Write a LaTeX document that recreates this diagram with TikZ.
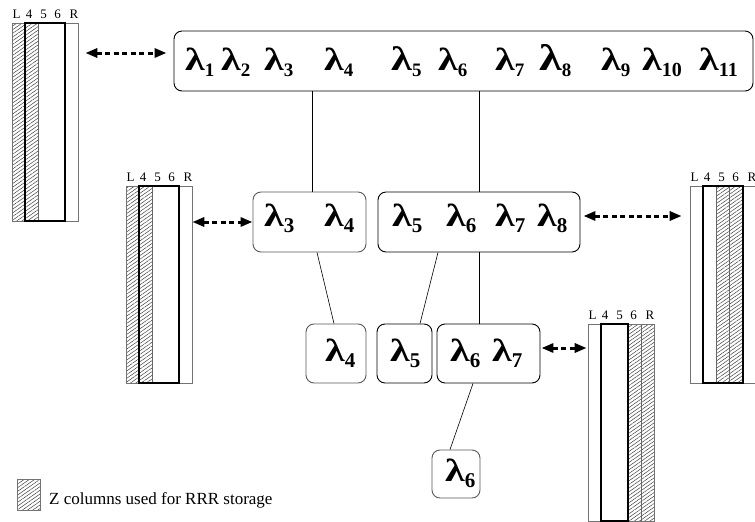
\documentclass[tikz,border=0pt]{standalone}
\usepackage{fontspec}
\setmainfont{Liberation Serif}
\usetikzlibrary{arrows.meta,patterns.meta,fit}
\newcommand\lam[3][32]{{\fontsize{#1}{#1}\selectfont\bfseries\scalebox{1.25}[1]{λ}}\raisebox{-6pt}{\fontsize{#2}{#2}\selectfont\bfseries #3}}
\newcommand\mycolbar[8]{%
  \fill[hatch] ({#2+#5*13.2},#3) rectangle ({#2+#6*13.2},#4);
  \draw[colline] ({#2+#5*13.2},#3) rectangle ({#2+#6*13.2},#4);
  \draw[colline] ({#2+(#5+1)*13.2},#3) -- ({#2+(#5+1)*13.2},#4);
  \node[barframe, fit={(#2,#3) ({#2+66},#4)}] (#1) {};
  \draw[thickbox] ({#2+#7*13.2},#3) rectangle ({#2+#8*13.2},#4);
  \foreach \tt/\xo in {L/4.5,4/17,5/31.5,6/45.5,R/62}
    \node[collab] at ({#2+\xo},{#3-5}) {\tt};
}
\begin{document}
\begin{tikzpicture}[x=1pt,y=-1pt,
  lbox/.style={draw, rounded corners=8pt, line width=0.9pt, inner sep=0pt},
  gbox/.style={lbox, draw=black!65},
  lab/.style={anchor=base west, inner sep=0pt},
  hatch/.style={pattern={Lines[angle=35,distance=3pt,line width=0.45pt]}, pattern color=black!80},
  colline/.style={draw=black!60, line width=0.5pt},
  barframe/.style={draw=black!55, line width=0.6pt, inner sep=0pt},
  thickbox/.style={draw=black, line width=1.8pt},
  collab/.style={anchor=base, inner sep=0pt, font=\fontsize{13}{13}\selectfont},
  tline/.style={line width=0.6pt},
  dotarr/.style={line width=3pt, dash pattern=on 5pt off 3.5pt,
    {Triangle[length=12pt,width=9pt]}-{Triangle[length=12pt,width=9pt]}}
]
\useasboundingbox (0,0) rectangle (755,522);

% boxes
\node[lbox, minimum width=579pt, minimum height=60pt] (top) at (463.5,61) {};
\node[gbox, minimum width=113pt, minimum height=60pt] (m1) at (309.5,222) {};
\node[lbox, minimum width=202pt, minimum height=60pt] (m2) at (479,222) {};
\node[gbox, minimum width=60pt, minimum height=59pt] (b1) at (336,353.5) {};
\node[lbox, minimum width=55pt, minimum height=59pt] (b2) at (404.5,353.5) {};
\node[lbox, minimum width=103pt, minimum height=59pt] (b3) at (488.5,353.5) {};
\node[gbox, minimum width=48pt, minimum height=48pt] (b4) at (456,474) {};

% labels top
\node[lab] at (185,70) {\lam{19}{1}};
\node[lab] at (221,70) {\lam{19}{2}};
\node[lab] at (264,70) {\lam{19}{3}};
\node[lab] at (324,70) {\lam{19}{4}};
\node[lab] at (391,70) {\lam[34]{19}{5}};
\node[lab] at (438,70) {\lam{19}{6}};
\node[lab] at (495,70) {\lam{19}{7}};
\node[lab] at (539,70) {\lam[37]{19}{8}};
\node[lab] at (601,70) {\lam{19}{9}};
\node[lab] at (642,70) {\lam{20}{10}};
\node[lab] at (699,70) {\lam{20}{11}};
% middle
\node[lab] at (264,226) {\lam{21}{3}};
\node[lab] at (324,226) {\lam{21}{4}};
\node[lab] at (392,226) {\lam{21}{5}};
\node[lab] at (446,226) {\lam{21}{6}};
\node[lab] at (495,226) {\lam{21}{7}};
\node[lab] at (537,226) {\lam{21}{8}};
% bottom
\node[lab] at (325,361) {\lam{21}{4}};
\node[lab] at (390,361) {\lam{21}{5}};
\node[lab] at (450,361) {\lam{21}{6}};
\node[lab] at (492,361) {\lam{21}{7}};
\node[lab] at (445,481) {\lam{21}{6}};

% tree lines
\coordinate (c1) at ([xshift=3pt]m1.north);
\draw[tline] (c1 |- top.south) -- (c1);
\draw[tline] (m2.north |- top.south) -- (m2.north);
\draw[tline] ([xshift=7.5pt]m1.south) -- ([xshift=-2pt]b1.north);
\draw[tline] ([xshift=-41pt]m2.south) -- ([xshift=15.5pt]b2.north);
\draw[tline] (m2.south) -- (m2.south |- b3.north);
\draw[tline] ([xshift=-15.5pt]b3.south) -- ([xshift=-6pt]b4.north);

% column bars
\mycolbar{barTL}{12}{23}{221}{0}{2}{1}{4}
\mycolbar{barML}{126}{186}{383}{0}{2}{1}{4}
\mycolbar{barMR}{690}{186}{383}{2}{4}{1}{4}
\mycolbar{barBR}{588}{324}{521}{3}{5}{1}{3}

% dotted arrows
\coordinate (a1) at ([yshift=8pt]top.west);
\draw[dotarr, shorten <=7pt, shorten >=7pt] (a1 -| barTL.east) -- (a1);
\draw[dotarr] (barML.east |- m1.west) -- (m1.west);
\coordinate (a3) at ([yshift=6pt]m2.east);
\draw[dotarr, shorten <=3pt, shorten >=8pt] (a3) -- (a3 -| barMR.west);
\coordinate (a4) at ([yshift=5.5pt]b3.east);
\draw[dotarr, shorten <=1pt, shorten >=1pt] (a4) -- (a4 -| barBR.west);

% legend
\fill[hatch] (17,479) rectangle (40,510);
\node[barframe, fit={(17,479) (40,510)}] (leg) {};
\node[anchor=base west, inner sep=0pt, font=\fontsize{17}{17}\selectfont] (legtext) at (49,504) {Z columns used for RRR storage};
\end{tikzpicture}
\end{document}
